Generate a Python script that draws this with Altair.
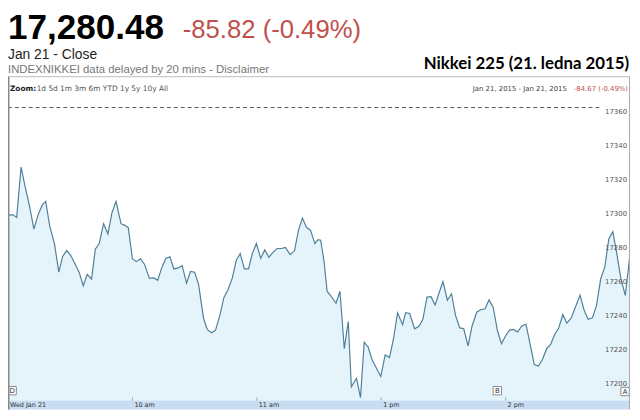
import altair as alt
import pandas as pd

# ---- data (trading minutes since 9:00, lunch break removed) ----
minutes = [
    0, 2.4, 4.2, 6.3, 8.2, 10.3, 12.5, 14.5, 16.6, 18.2,
    20.1, 22.4, 24.5, 26.4, 28.3, 30.3, 32.4, 34.3, 36.3, 38.2,
    40.3, 42.1, 44.0, 46.1, 48.2, 50.1, 52.1, 54.5, 56.4, 58.0,
    60.0, 61.9, 63.9, 65.8, 68.2, 70.3, 72.2, 74.2, 76.1, 78.1,
    80.0, 82.1, 84.0, 86.1, 88.0, 90.0, 91.9, 94.3, 96.1, 98.2,
    100.1, 102.2, 104.1, 106.1, 108.2, 110.1, 112.0, 114.0, 116.0, 117.9,
    119.8, 121.9, 123.8, 125.8, 127.9, 129.8, 131.9, 133.8, 136.1, 138.2,
    140.1, 142.0, 144.0, 145.9, 148.0, 149.5, 150.8, 152.4, 153.9, 155.8,
    158.2, 160.1, 162.2, 164.1, 165.6, 168.1, 170.0, 171.8, 173.7, 175.6,
    177.6, 179.8, 181.9, 184.0, 185.9, 187.9, 190.3, 191.8, 193.7, 196.1,
    198.2, 200.1, 202.1, 204.0, 206.0, 207.9, 209.8, 211.9, 213.9, 215.8,
    217.9, 219.8, 221.9, 223.8, 226.1, 228.0, 230.1, 232.0, 234.0, 236.1,
    238.0, 240.0, 241.9, 243.8, 245.8, 247.7, 249.8, 251.8, 253.8, 255.8,
    257.7, 259.8, 261.7, 263.7, 265.6, 267.6, 269.5, 271.6, 273.5, 275.9,
    277.9, 279.8, 281.9, 283.8, 285.9, 287.8, 289.8, 291.7, 293.3, 295.6,
    297.7, 299.3, 300.0,
]
prices = [
    17300.9, 17300.9, 17299.4, 17329.0, 17317.8, 17306.5, 17292.5, 17300.9, 17306.9, 17308.8,
    17294.4, 17284.0, 17267.2, 17276.6, 17279.9, 17277.0, 17271.9, 17267.2, 17259.2, 17265.9,
    17263.1, 17280.7, 17284.0, 17295.7, 17289.7, 17301.9, 17308.8, 17295.7, 17294.7, 17293.4,
    17275.1, 17273.4, 17275.1, 17271.9, 17263.5, 17263.8, 17262.4, 17270.0, 17275.3, 17276.2,
    17269.1, 17269.7, 17271.0, 17260.7, 17267.6, 17267.2, 17260.1, 17240.1, 17233.5, 17231.6,
    17233.1, 17241.9, 17252.2, 17256.9, 17263.8, 17274.2, 17278.1, 17269.1, 17269.1, 17278.4,
    17284.0, 17275.3, 17280.3, 17276.0, 17279.0, 17281.1, 17281.1, 17281.8, 17277.5, 17279.9,
    17291.9, 17299.0, 17293.4, 17291.9, 17284.0, 17286.3, 17286.0, 17273.8, 17256.0, 17253.1,
    17248.9, 17256.0, 17222.2, 17238.2, 17199.8, 17204.8, 17193.4, 17226.0, 17223.2, 17215.7,
    17211.0, 17205.8, 17218.5, 17217.0, 17227.9, 17243.3, 17236.3, 17243.4, 17242.9, 17233.9,
    17235.4, 17239.5, 17252.6, 17252.8, 17247.9, 17255.1, 17261.6, 17250.7, 17254.5, 17241.9,
    17234.4, 17233.9, 17223.8, 17235.4, 17243.8, 17245.1, 17245.7, 17250.9, 17246.6, 17232.6,
    17225.1, 17229.8, 17233.1, 17233.5, 17232.0, 17235.4, 17236.7, 17225.1, 17212.9, 17212.0,
    17215.7, 17222.2, 17224.7, 17230.7, 17234.4, 17242.3, 17237.2, 17240.1, 17246.1, 17253.7,
    17244.7, 17239.5, 17240.4, 17247.5, 17263.5, 17270.0, 17286.9, 17291.0, 17280.3, 17263.5,
    17253.5, 17270.0, 17278.4,
]
y_ticks = [17200, 17220, 17240, 17260, 17280, 17300, 17320, 17340, 17360]
hour_minutes = [60, 120, 180, 240]
x_label_minutes = [0, 60, 120, 180, 240]
x_labels = ["Wed Jan 21", "10 am", "11 am", "1 pm", "2 pm"]
prev_close = 17364
flag_minutes = [2, 236, 297.6]
flag_letters = ["D", "B", "A"]
flag_level = [17197.5, 17197.5, 17197.0]

price_text = "17,280.48"
change_text = "-85.82 (-0.49%)"
close_text = "Jan 21 - Close"
delay_text = "INDEXNIKKEI data delayed by 20 mins - Disclaimer"
title_text = "Nikkei 225 (21. ledna 2015)"
zoom_label = "Zoom:"
zoom_links = "1d  5d  1m  3m  6m  YTD  1y  5y  10y  All"
range_text = "Jan 21, 2015  -  Jan 21, 2015"
range_change = "-84.67 (-0.49%)"

W, H = 630, 304
BAND = 9
SMALL = "DejaVu Sans"
HEAD = "Liberation Sans"

xs = alt.Scale(domain=[0, 300], nice=False, zero=False)
ys = alt.Scale(domain=[17191.7, 17368.2], nice=False, zero=False)

df = pd.DataFrame({"m": minutes, "p": prices})
one = pd.DataFrame({"k": [0]})

area = alt.Chart(df).mark_area(
    color="#e0f1fa", fillOpacity=0.85, clip=True,
    line={"color": "#4f8099", "strokeWidth": 1.2},
).encode(
    x=alt.X("m:Q", scale=xs, axis=alt.Axis(values=hour_minutes, grid=True, gridColor="#efefef",
                                          labels=False, ticks=False, domain=False, title=None)),
    y=alt.Y("p:Q", scale=ys, axis=alt.Axis(values=y_ticks, grid=True, gridColor="#e4e4e4",
                                          gridWidth=1.5, labels=False, ticks=False, domain=False, title=None)),
)

prev = alt.Chart(pd.DataFrame({"p": [prev_close]})).mark_rule(
    color="#555555", strokeDash=[4, 3], strokeWidth=1
).encode(y=alt.Y("p:Q", scale=ys, axis=None), x=alt.value(0), x2=alt.value(601))

ylab = alt.Chart(pd.DataFrame({"v": y_ticks})).mark_text(
    align="right", baseline="alphabetic", fontSize=7, font=SMALL, color="#555555"
).encode(y=alt.Y("v:Q", scale=ys, axis=None), x=alt.value(627), text=alt.Text("v:Q", format="d"))

band = alt.Chart(one).mark_rect(color="#c8ddf1").encode(
    x=alt.value(0), x2=alt.value(W), y=alt.value(H), y2=alt.value(H + BAND))

ticks = alt.Chart(pd.DataFrame({"m": hour_minutes})).mark_rule(color="#8fa9c0", strokeWidth=1).encode(
    x=alt.X("m:Q", scale=xs, axis=None), y=alt.value(H - 3), y2=alt.value(H))

xlab = alt.Chart(pd.DataFrame({"m": x_label_minutes, "t": x_labels})).mark_text(
    align="left", baseline="alphabetic", fontSize=6.5, font=SMALL, color="#333333", dx=2
).encode(x=alt.X("m:Q", scale=xs, axis=None), y=alt.value(H + 7), text="t:N")

fdf = pd.DataFrame({"m": flag_minutes, "f": flag_letters, "p": flag_level})
flag_box = alt.Chart(fdf).mark_square(size=72, fill="white", stroke="#8a8a8a", strokeWidth=1, opacity=1).encode(
    x=alt.X("m:Q", scale=xs, axis=None), y=alt.Y("p:Q", scale=ys, axis=None))
flag_txt = alt.Chart(fdf).mark_text(fontSize=7, font=SMALL, color="#333333", baseline="middle", align="center").encode(
    x=alt.X("m:Q", scale=xs, axis=None), y=alt.Y("p:Q", scale=ys, axis=None), text="f:N")

# frame lines
frame_top = alt.Chart(one).mark_rule(color="#bbbbbb", strokeWidth=1).encode(
    x=alt.value(0), x2=alt.value(W), y=alt.value(-24))
frame_left = alt.Chart(one).mark_rule(color="#888888", strokeWidth=1.5).encode(
    x=alt.value(0.75), y=alt.value(-24), y2=alt.value(H + BAND))
frame_right = alt.Chart(one).mark_rule(color="#aaaaaa", strokeWidth=1).encode(
    x=alt.value(W - 0.5), y=alt.value(-24), y2=alt.value(H + BAND))


def label(text, x, y, size, color="#000000", font=HEAD, weight="normal", align="left"):
    return alt.Chart(one).mark_text(
        text=text, fontSize=size, font=font, fontWeight=weight, color=color,
        align=align, baseline="alphabetic"
    ).encode(x=alt.value(x), y=alt.value(y))


texts = [
    label(price_text, 0, -62, 35.5, "#000000", HEAD, "bold"),
    label(change_text, 177, -63.5, 26, "#c0504d"),
    label(close_text, 0, -42, 14, "#222222"),
    label(delay_text, 0, -28, 11.5, "#777777"),
    label(title_text, 629, -32, 17, "#000000", "Lato", "bold", "right"),
    label(zoom_label, 2, -10, 7.5, "#222222", SMALL, "bold"),
    label(zoom_links, 29, -10, 7.5, "#555555", SMALL),
    label(range_text, 566, -10, 7, "#444444", SMALL, "normal", "right"),
    label(range_change, 628, -10, 7, "#c0504d", SMALL, "normal", "right"),
]

chart = alt.layer(
    area, prev, band, ticks, xlab, ylab, flag_box, flag_txt,
    frame_top, frame_left, frame_right, *texts
).properties(
    width=W, height=H, autosize="none",
    padding={"left": 0, "top": 91, "right": 2, "bottom": BAND},
    background="white",
).configure_view(strokeWidth=0)

chart.save("out.html", embed_options={"renderer": "svg", "actions": False})
